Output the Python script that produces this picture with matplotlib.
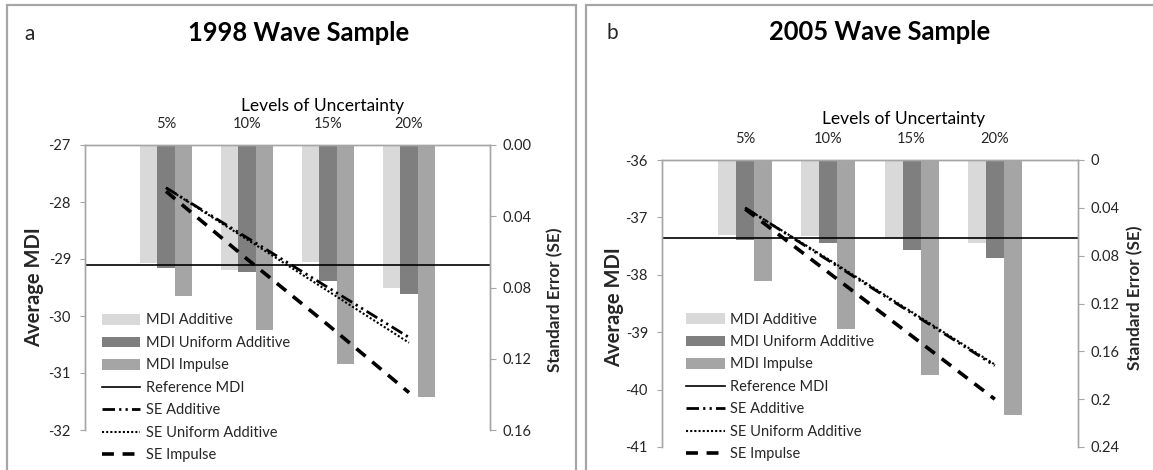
import numpy as np
import matplotlib
matplotlib.use("Agg")
from matplotlib import pyplot as plt
from matplotlib.patches import Rectangle

plt.rcParams.update({
    "font.family": ["Lato", "DejaVu Sans"],
    "font.size": 10.5,
    "axes.unicode_minus": False,
})

W, H = 1153, 470

levels = ["5%", "10%", "15%", "20%"]

# a: 1998 wave sample
mdi_add_98 = [-29.07, -29.19, -29.06, -29.51]
mdi_uni_98 = [-29.15, -29.23, -29.39, -29.62]
mdi_imp_98 = [-29.65, -30.25, -30.85, -31.42]
ref_98 = -29.10
se_add_98 = [0.024, 0.052, 0.080, 0.108]
se_uni_98 = [0.024, 0.053, 0.082, 0.111]
se_imp_98 = [0.026, 0.064, 0.101, 0.139]

# b: 2005 wave sample
mdi_add_05 = [-37.31, -37.33, -37.36, -37.44]
mdi_uni_05 = [-37.40, -37.45, -37.56, -37.70]
mdi_imp_05 = [-38.11, -38.95, -39.75, -40.44]
ref_05 = -37.36
se_add_05 = [0.040, 0.084, 0.128, 0.172]
se_uni_05 = [0.040, 0.083, 0.127, 0.171]
se_imp_05 = [0.041, 0.094, 0.147, 0.200]

GRAY = "#a6a6a6"
TXT = "#262626"
FS = 10.5


def fx(px):
    return px / W


def fy(py):
    return 1 - py / H


fig = plt.figure(figsize=(W / 100, H / 100), dpi=100)


def panel(box, mdi_add, mdi_uni, mdi_imp, ref, se_add, se_uni, se_imp,
          ylim, se_lim, se_ticks, se_labels, leg_xy):
    left, top, right, bottom = box
    ax = fig.add_axes([fx(left), fy(bottom), fx(right - left), (bottom - top) / H])
    ax2 = ax.twinx()

    x = np.arange(1, len(levels) + 1)
    w = 0.216
    base = ylim[1]
    b1 = ax.bar(x - w, np.array(mdi_add) - base, bottom=base, width=w,
                color="#d9d9d9", label="MDI Additive")
    b2 = ax.bar(x, np.array(mdi_uni) - base, bottom=base, width=w,
                color="#7f7f7f", label="MDI Uniform Additive")
    b3 = ax.bar(x + w, np.array(mdi_imp) - base, bottom=base, width=w,
                color="#a5a5a5", label="MDI Impulse")
    r = ax.axhline(ref, color="black", lw=1.2, label="Reference MDI")

    l1, = ax2.plot(x, se_add, color="black", lw=2.0,
                   dashes=[4.5, 1.5, 0.8, 1.5, 0.8, 1.5], label="SE Additive")
    l2, = ax2.plot(x, se_uni, color="black", lw=1.5,
                   dashes=[1, 1], label="SE Uniform Additive")
    l3, = ax2.plot(x, se_imp, color="black", lw=2.6,
                   dashes=[3.3, 2.4], label="SE Impulse")

    ax.set_xlim(0, 5)
    ax.set_ylim(*ylim)
    ax.set_yticks(np.arange(ylim[0], ylim[1] + 1))
    ax2.set_ylim(*se_lim)
    ax2.set_yticks(se_ticks)
    ax2.set_yticklabels(se_labels)

    ax.xaxis.tick_top()
    ax.set_xticks(x, levels)
    ax.tick_params(axis="x", length=0, pad=10, labelsize=FS, labelcolor=TXT)
    ax.tick_params(axis="y", direction="out", length=3.6, color=GRAY,
                   pad=6.5, labelsize=FS, labelcolor=TXT)
    ax2.tick_params(axis="y", direction="out", length=4.5, color=GRAY,
                    pad=4.5, labelsize=FS, labelcolor=TXT)

    for a in (ax, ax2):
        a.spines["bottom"].set_visible(False)
        for s in ("top", "left", "right"):
            a.spines[s].set_color(GRAY)
            a.spines[s].set_linewidth(1.0)

    handles = [b1, b2, b3, r, l1, l2, l3]
    fig.legend(handles, [h.get_label() for h in handles], loc="upper left",
               bbox_to_anchor=(fx(leg_xy[0]), fy(leg_xy[1])), frameon=False,
               borderpad=0, borderaxespad=0, fontsize=FS, handlelength=2.67,
               handleheight=0.75, handletextpad=0.36, labelspacing=0.58,
               labelcolor=TXT)
    return ax


panel((85, 145, 490, 430), mdi_add_98, mdi_uni_98, mdi_imp_98, ref_98,
      se_add_98, se_uni_98, se_imp_98, (-32, -27), (0.16, 0),
      [0, 0.04, 0.08, 0.12, 0.16], ["0.00", "0.04", "0.08", "0.12", "0.16"],
      (101.5, 313.5))
panel((662, 160, 1078, 447), mdi_add_05, mdi_uni_05, mdi_imp_05, ref_05,
      se_add_05, se_uni_05, se_imp_05, (-41, -36), (0.24, 0),
      [0, 0.04, 0.08, 0.12, 0.16, 0.2, 0.24],
      ["0", "0.04", "0.08", "0.12", "0.16", "0.2", "0.24"],
      (686, 312.5))

# panel frames
fig.add_artist(Rectangle((fx(7), -0.1), fx(576 - 7), fy(5) + 0.1,
                         transform=fig.transFigure, fill=False, ec=GRAY, lw=1.6))
fig.add_artist(Rectangle((fx(585.5), -0.1), 1.1 - fx(585.5), fy(5) + 0.1,
                         transform=fig.transFigure, fill=False, ec=GRAY, lw=1.6))

# panel texts
fig.text(fx(29.5), fy(34), "a", ha="center", va="center", fontsize=15, color=TXT)
fig.text(fx(612), fy(33), "b", ha="center", va="center", fontsize=15, color=TXT)
fig.text(fx(298.7), fy(41), "1998 Wave Sample", ha="center", va="baseline",
         fontsize=18.4, fontweight="bold", color="black")
fig.text(fx(880), fy(40), "2005 Wave Sample", ha="center", va="baseline",
         fontsize=18.4, fontweight="bold", color="black")
fig.text(fx(322.5), fy(110.5), "Levels of Uncertainty", ha="center",
         va="baseline", fontsize=12.5, color="black")
fig.text(fx(904), fy(124), "Levels of Uncertainty", ha="center",
         va="baseline", fontsize=12.5, color="black")
fig.text(fx(34), fy(287), "Average MDI", rotation=90, ha="center",
         va="center", fontsize=14.5, fontweight="bold", color=TXT)
fig.text(fx(614), fy(307), "Average MDI", rotation=90, ha="center",
         va="center", fontsize=14.5, fontweight="bold", color=TXT)
fig.text(fx(555), fy(300), "Standard Error (SE)", rotation=90, ha="center",
         va="center", fontsize=12.3, fontweight="bold", color=TXT)
fig.text(fx(1135.5), fy(298), "Standard Error (SE)", rotation=90, ha="center",
         va="center", fontsize=12.3, fontweight="bold", color=TXT)

fig.savefig("out.png", dpi=100)
